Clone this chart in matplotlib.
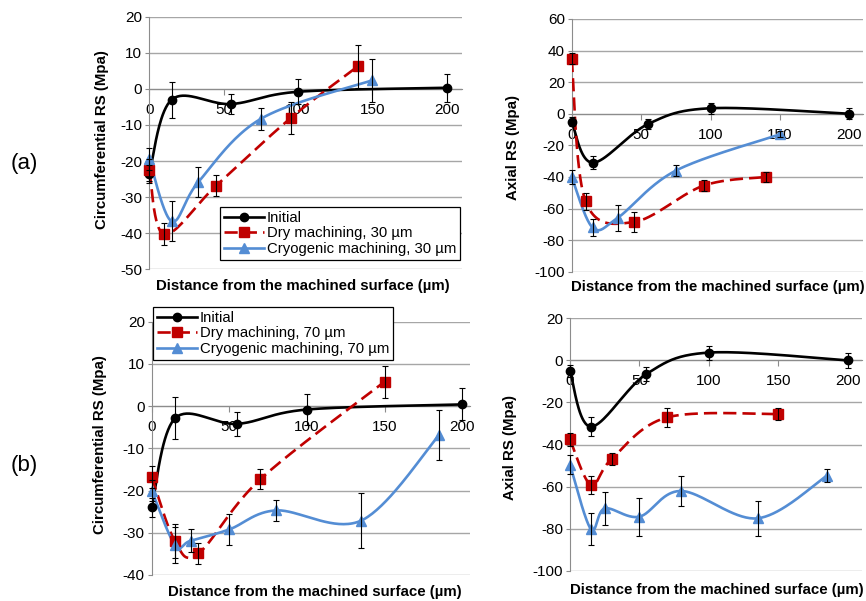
import numpy as np
import matplotlib
matplotlib.use("Agg")
import matplotlib.pyplot as plt
from matplotlib.lines import Line2D

plt.rcParams['font.family'] = ['Liberation Sans', 'DejaVu Sans']
plt.rcParams['axes.unicode_minus'] = False

# ---------------- data ----------------
x_init = [0, 15, 55, 100, 200]
x_dry30 = [0, 10, 45, 95, 140]
x_cryo30 = [0, 15, 33, 75, 150]
x_dry70 = [0, 15, 30, 70, 150]
x_cryo70 = [0, 15, 25, 50, 80, 135, 185]

# (a) circumferential
a_circ_init = [-23.5, -3, -4.2, -0.8, 0.3]
a_circ_init_err = [2.5, 5, 2.7, 3.5, 3.8]
a_circ_dry = [-22.5, -40.3, -26.8, -8.1, 6.2]
a_circ_dry_err = [3, 3, 2.8, 4.4, 6]
a_circ_cryo = [-19.5, -36.7, -25.8, -8.3, 2.4]
a_circ_cryo_err = [3, 5.5, 4.2, 3, 6]

# (a) axial
a_ax_init = [-5, -31, -6.5, 3.5, 0]
a_ax_init_err = [3, 4, 3, 3.5, 3.5]
a_ax_dry = [34.7, -55.5, -68.5, -45.5, -40]
a_ax_dry_err = [3.5, 5.5, 6.5, 3.5, 3.2]
a_ax_cryo = [-40, -72, -66, -36, -13]
a_ax_cryo_err = [4.5, 5.5, 8, 3.5, 2]

# (b) circumferential
b_circ_init = [-24, -2.9, -4.2, -0.8, 0.4]
b_circ_init_err = [2.3, 5, 2.8, 3.6, 3.8]
b_circ_dry = [-16.8, -32, -34.9, -17.3, 5.8]
b_circ_dry_err = [2.7, 4, 2.5, 2.4, 3.8]
b_circ_cryo = [-20, -32.9, -31.9, -29.2, -24.7, -27.1, -6.9]
b_circ_cryo_err = [2.5, 4.2, 2.7, 3.7, 2.4, 6.5, 5.9]

# (b) axial
b_ax_init = [-5.1, -31.5, -6.5, 3.7, 0]
b_ax_init_err = [3, 4.5, 3.5, 3.3, 3.7]
b_ax_dry = [-37.6, -59.2, -46.9, -27.1, -25.5]
b_ax_dry_err = [3, 4.2, 2.7, 4.5, 2.7]
b_ax_cryo = [-49.6, -80.2, -70.4, -74.3, -62.1, -75.1, -54.8]
b_ax_cryo_err = [4.5, 7.5, 8, 9, 7, 8.3, 3.2]

x_ticks = [0, 50, 100, 150, 200]
labels_a = ['Initial', 'Dry machining, 30 µm', 'Cryogenic machining, 30 µm']
labels_b = ['Initial', 'Dry machining, 70 µm', 'Cryogenic machining, 70 µm']
xlabel = 'Distance from the machined surface (µm)'

# ---------------- style ----------------
BLACK = '#000000'
RED = '#C00000'
BLUE = '#548DD4'
GRID = '#A6A6A6'
AXC = '#8C8C8C'
TICK_FS = 11
LEG_FS = 10.7
LAB_FS = 10.8

W, H = 866, 601
fig = plt.figure(figsize=(W / 100, H / 100), dpi=100)


def add_ax(left, top, right, bottom):
    return fig.add_axes([left / W, 1 - bottom / H, (right - left) / W, (bottom - top) / H])


def smooth(ax, x, y, n=40):
    pts = ax.transData.transform(np.column_stack([x, y]))
    P = np.vstack([pts[0], pts, pts[-1]])
    out = []
    t = np.linspace(0, 1, n)[:, None]
    for i in range(1, len(P) - 2):
        p0, p1, p2, p3 = P[i - 1], P[i], P[i + 1], P[i + 2]
        c1 = p1 + (p2 - p0) / 6
        c2 = p2 - (p3 - p1) / 6
        seg = (1 - t) ** 3 * p1 + 3 * (1 - t) ** 2 * t * c1 + 3 * (1 - t) * t ** 2 * c2 + t ** 3 * p2
        out.append(seg)
    d = ax.transData.inverted().transform(np.vstack(out))
    return d[:, 0], d[:, 1]


def setup(ax, xlim, ylim, ystep):
    ax.set_xlim(*xlim)
    ax.set_ylim(*ylim)
    ax.set_yticks(np.arange(ylim[0], ylim[1] + 0.1, ystep))
    ax.set_xticks(x_ticks)
    ax.yaxis.grid(True, color=GRID, lw=1.0)
    ax.set_axisbelow(True)
    for s in ['top', 'right']:
        ax.spines[s].set_visible(False)
    ax.spines['left'].set_color(AXC)
    ax.spines['bottom'].set_position(('data', 0))
    ax.spines['bottom'].set_color(AXC)
    ax.tick_params(axis='y', colors=AXC, length=3, direction='out', labelcolor='black',
                   labelsize=TICK_FS, pad=2)
    ax.tick_params(axis='x', colors=AXC, length=4, direction='out', labelcolor='black',
                   labelsize=TICK_FS, pad=6)
    ax.patch.set_alpha(0)


def series(ax, x, y, err, color, marker, ms, dashed=False):
    sx, sy = smooth(ax, x, y)
    if dashed:
        ax.plot(sx, sy, color=color, lw=1.9, dashes=(5, 2.3), zorder=3, solid_capstyle='butt')
    else:
        ax.plot(sx, sy, color=color, lw=1.9, zorder=3)
    ax.plot(x, y, ls='none', marker=marker, ms=ms, color=color, zorder=4, clip_on=False)
    ax.errorbar(x, y, yerr=err, fmt='none', ecolor='black', elinewidth=0.8, capsize=2.5,
                capthick=0.8, zorder=5, clip_on=False)


def handles():
    return [
        Line2D([], [], color=BLACK, lw=1.9, marker='o', ms=6),
        Line2D([], [], color=RED, lw=1.9, dashes=(5, 2.3), marker='s', ms=7),
        Line2D([], [], color=BLUE, lw=1.9, marker='^', ms=7),
    ]


def legend(ax, labels, x0, y0):
    leg = ax.legend(handles(), labels, loc='upper left', bbox_to_anchor=(x0 / W, 1 - y0 / H),
                    bbox_transform=fig.transFigure, borderaxespad=0, fontsize=LEG_FS,
                    handlelength=2.7, labelspacing=0.12, borderpad=0.25, handletextpad=0.2,
                    fancybox=False, edgecolor='black', framealpha=1)
    leg.get_frame().set_linewidth(0.9)


# ---------- (a) circumferential ----------
ax1 = add_ax(149.3, 16.7, 461.7, 269.3)
setup(ax1, (0, 210), (-50, 20), 10)
series(ax1, x_init, a_circ_init, a_circ_init_err, BLACK, 'o', 6)
series(ax1, x_dry30, a_circ_dry, a_circ_dry_err, RED, 's', 7, dashed=True)
series(ax1, x_cryo30, a_circ_cryo, a_circ_cryo_err, BLUE, '^', 7)
legend(ax1, labels_a, 220, 207)

# ---------- (a) axial ----------
ax2 = add_ax(571.7, 19, 863.3, 271.7)
setup(ax2, (0, 210), (-100, 60), 20)
series(ax2, x_init, a_ax_init, a_ax_init_err, BLACK, 'o', 6)
series(ax2, x_dry30, a_ax_dry, a_ax_dry_err, RED, 's', 7, dashed=True)
series(ax2, x_cryo30, a_ax_cryo, a_ax_cryo_err, BLUE, '^', 7)

# ---------- (b) circumferential ----------
ax3 = add_ax(151.7, 321.7, 470, 575)
setup(ax3, (0, 205), (-40, 20), 10)
series(ax3, x_init, b_circ_init, b_circ_init_err, BLACK, 'o', 6)
series(ax3, x_dry70, b_circ_dry, b_circ_dry_err, RED, 's', 7, dashed=True)
series(ax3, x_cryo70, b_circ_cryo, b_circ_cryo_err, BLUE, '^', 7)
legend(ax3, labels_b, 153, 307)

# ---------- (b) axial ----------
ax4 = add_ax(570, 318.3, 861.7, 570.7)
setup(ax4, (0, 210), (-100, 20), 20)
series(ax4, x_init, b_ax_init, b_ax_init_err, BLACK, 'o', 6)
series(ax4, x_dry70, b_ax_dry, b_ax_dry_err, RED, 's', 7, dashed=True)
series(ax4, x_cryo70, b_ax_cryo, b_ax_cryo_err, BLUE, '^', 7)

# ---------- labels ----------
def ftext(x, y, s, **kw):
    fig.text(x / W, 1 - y / H, s, **kw)

for (x, y, s) in [(102, 140, 'Circumferential RS (Mpa)'), (513, 147, 'Axial RS (Mpa)'),
                  (100, 445, 'Circumferential RS (Mpa)'), (510, 447, 'Axial RS (Mpa)')]:
    ftext(x, y, s, rotation=90, ha='center', va='center', fontsize=LAB_FS, fontweight='bold')

for (x, y) in [(303, 286), (718, 287), (315, 592), (717, 590)]:
    ftext(x, y, xlabel, ha='center', va='center', fontsize=LAB_FS, fontweight='bold')

ftext(24, 163, '(a)', ha='center', va='center', fontsize=16)
ftext(24, 465, '(b)', ha='center', va='center', fontsize=16)

fig.savefig('out.png', dpi=100, facecolor='white')
